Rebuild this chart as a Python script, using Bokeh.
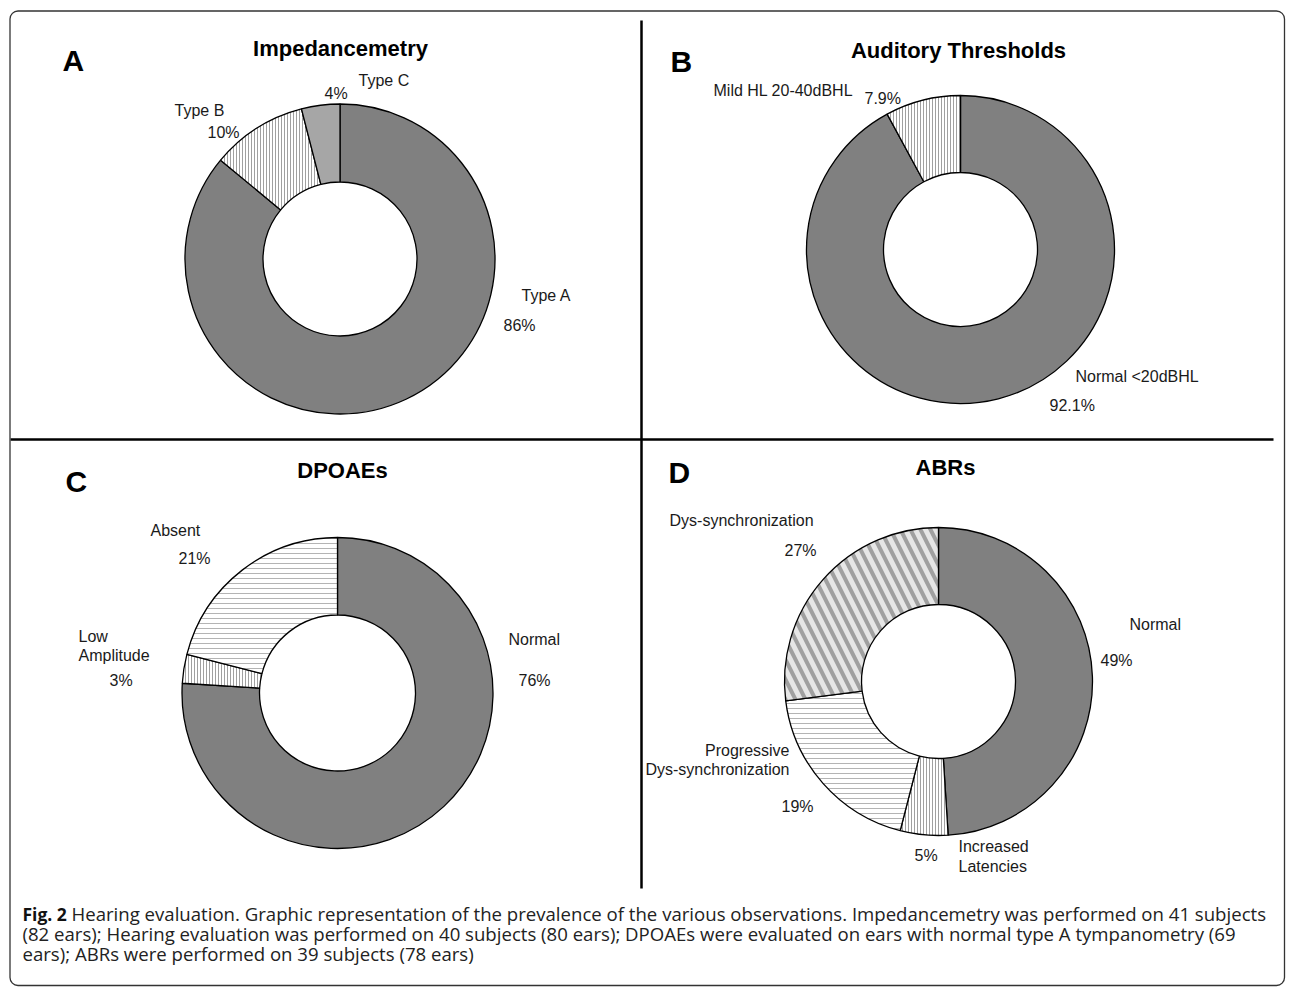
import math
from bokeh.plotting import figure
from bokeh.models import ColumnDataSource, Range1d
from bokeh.core.properties import value
from bokeh.embed import file_html
from bokeh.resources import INLINE

# ---------------- data ----------------
imp_categories = ["Type A", "Type B", "Type C"]
imp_values = [86, 10, 4]

thr_categories = ["Normal <20dBHL", "Mild HL 20-40dBHL"]
thr_values = [92.1, 7.9]

dp_categories = ["Normal", "Low Amplitude", "Absent"]
dp_values = [76, 3, 21]

abr_categories = ["Normal", "Increased Latencies", "Progressive Dys-synchronization", "Dys-synchronization"]
abr_values = [49, 5, 19, 27]

caption_bold = "Fig. 2"
caption_lines = [
    "Hearing evaluation. Graphic representation of the prevalence of the various observations. Impedancemetry was performed on 41 subjects",
    "(82 ears); Hearing evaluation was performed on 40 subjects (80 ears); DPOAEs were evaluated on ears with normal type A tympanometry (69",
    "ears); ABRs were performed on 39 subjects (78 ears)",
]

# ---------------- styles ----------------
SOLID = dict(fill="#808080", hatch=" ", hcolor="#808080", hscale=4, hweight=1)
LIGHT = dict(fill="#a6a6a6", hatch=" ", hcolor="#a6a6a6", hscale=4, hweight=1)
VLINE = dict(fill="#ffffff", hatch="|", hcolor="#a0a0a0", hscale=3, hweight=1)
HLINE = dict(fill="#ffffff", hatch="-", hcolor="#b4b4b4", hscale=5, hweight=1)
DIAG = dict(fill="#e6e6e6", hatch="\\", hcolor="#a0a0a0", hscale=20, hweight=4)

W, H = 1290, 987

p = figure(width=W, height=H, output_backend="svg", toolbar_location=None,
           x_range=Range1d(0, W), y_range=Range1d(-H, 0),
           x_axis_type=None, y_axis_type=None, min_border=0, tools="")
p.grid.visible = False
p.outline_line_color = None
p.background_fill_color = "white"
p.border_fill_color = "white"

LABEL_FONT = value("Liberation Sans")
TEXT_COLOR = "#1a1a1a"

panels = [
    dict(cats=imp_categories, vals=imp_values, styles=[SOLID, VLINE, LIGHT],
         cx=339.5, cy=258.5, ro=155, ri=77,
         letter="A", lx=62, ly=60, title="Impedancemetry", tx=340, ty=48,
         labels=[("Type A", 521, 295, "left"), ("86%", 503, 325, "left"),
                 ("Type B", 174, 110, "left"), ("10%", 207, 132, "left"),
                 ("4%", 324, 93, "left"), ("Type C", 358, 80, "left")]),
    dict(cats=thr_categories, vals=thr_values, styles=[SOLID, VLINE],
         cx=960, cy=249, ro=154, ri=77,
         letter="B", lx=670, ly=61, title="Auditory Thresholds", tx=958, ty=50,
         labels=[("Mild HL 20-40dBHL", 713, 90, "left"), ("7.9%", 864, 98, "left"),
                 ("Normal <20dBHL", 1075, 376, "left"), ("92.1%", 1049, 405, "left")]),
    dict(cats=dp_categories, vals=dp_values, styles=[SOLID, VLINE, HLINE],
         cx=337, cy=692.5, ro=155.5, ri=78,
         letter="C", lx=65, ly=481, title="DPOAEs", tx=342, ty=470,
         labels=[("Absent", 150, 530, "left"), ("21%", 178, 558, "left"),
                 ("Low", 78, 636, "left"), ("Amplitude", 78, 655, "left"), ("3%", 109, 680, "left"),
                 ("Normal", 508, 639, "left"), ("76%", 518, 680, "left")]),
    dict(cats=abr_categories, vals=abr_values, styles=[SOLID, VLINE, HLINE, DIAG],
         cx=938, cy=681, ro=154, ri=77,
         letter="D", lx=668, ly=472, title="ABRs", tx=945, ty=467,
         labels=[("Dys-synchronization", 669, 520, "left"), ("27%", 784, 550, "left"),
                 ("Normal", 1129, 624, "left"), ("49%", 1100, 660, "left"),
                 ("Progressive", 789, 750, "right"), ("Dys-synchronization", 789, 769, "right"),
                 ("19%", 781, 806, "left"), ("5%", 914, 855, "left"),
                 ("Increased", 958, 846, "left"), ("Latencies", 958, 866, "left")]),
]

for pn in panels:
    total = float(sum(pn["vals"]))
    starts, ends = [], []
    cum = 0.0
    for v in pn["vals"]:
        starts.append(math.pi / 2 - 2 * math.pi * cum / total)
        cum += v
        ends.append(math.pi / 2 - 2 * math.pi * cum / total)
    n = len(pn["vals"])
    src = ColumnDataSource(dict(
        x=[pn["cx"]] * n, y=[-pn["cy"]] * n,
        start=starts, end=ends, cat=pn["cats"], val=pn["vals"],
        fill=[s["fill"] for s in pn["styles"]],
        hatch=[s["hatch"] for s in pn["styles"]],
        hcolor=[s["hcolor"] for s in pn["styles"]],
        hscale=[s["hscale"] for s in pn["styles"]],
        hweight=[s["hweight"] for s in pn["styles"]],
    ))
    p.annular_wedge(x="x", y="y", inner_radius=pn["ri"], outer_radius=pn["ro"],
                    start_angle="start", end_angle="end", direction="clock",
                    fill_color="fill", hatch_pattern="hatch", hatch_color="hcolor",
                    hatch_scale="hscale", hatch_weight="hweight",
                    line_color="black", line_width=1.3, source=src)
    # panel letter
    p.text(x=[pn["lx"]], y=[-pn["ly"]], text=[pn["letter"]], text_font=LABEL_FONT,
           text_font_size="30px", text_font_style="bold", text_color="black",
           text_align="left", text_baseline="middle")
    # title
    p.text(x=[pn["tx"]], y=[-pn["ty"]], text=[pn["title"]], text_font=LABEL_FONT,
           text_font_size="22px", text_font_style="bold", text_color="black",
           text_align="center", text_baseline="middle")
    # labels
    for (t, lx, ly, al) in pn["labels"]:
        p.text(x=[lx], y=[-ly], text=[t], text_font=LABEL_FONT, text_font_size="16px",
               text_color=TEXT_COLOR, text_align=al, text_baseline="middle")

# separators
p.segment(x0=[641], y0=[-20], x1=[641], y1=[-888], line_color="black", line_width=2.5)
p.segment(x0=[10], y0=[-439], x1=[1273], y1=[-439], line_color="black", line_width=2.5)

# rounded frame
p.quad(left=[9.5], right=[1284], top=[-10.5], bottom=[-985], fill_color=None,
       line_color="#333333", line_width=1.3, border_radius=8)

# caption
CAP_FONT = value("Open Sans")
p.text(x=[22], y=[-913], text=[caption_bold], text_font=CAP_FONT, text_font_size="17.5px",
       text_font_style="bold", text_color="#111111", text_align="left", text_baseline="middle")
cap_x = [71, 22, 22]
cap_y = [913, 933, 953]
for cx_, cy_, line in zip(cap_x, cap_y, caption_lines):
    p.text(x=[cx_], y=[-cy_], text=[line], text_font=CAP_FONT, text_font_size="18.6px",
           text_color="#222222", text_align="left", text_baseline="middle")

open("out.html", "w").write(file_html(p, INLINE))
